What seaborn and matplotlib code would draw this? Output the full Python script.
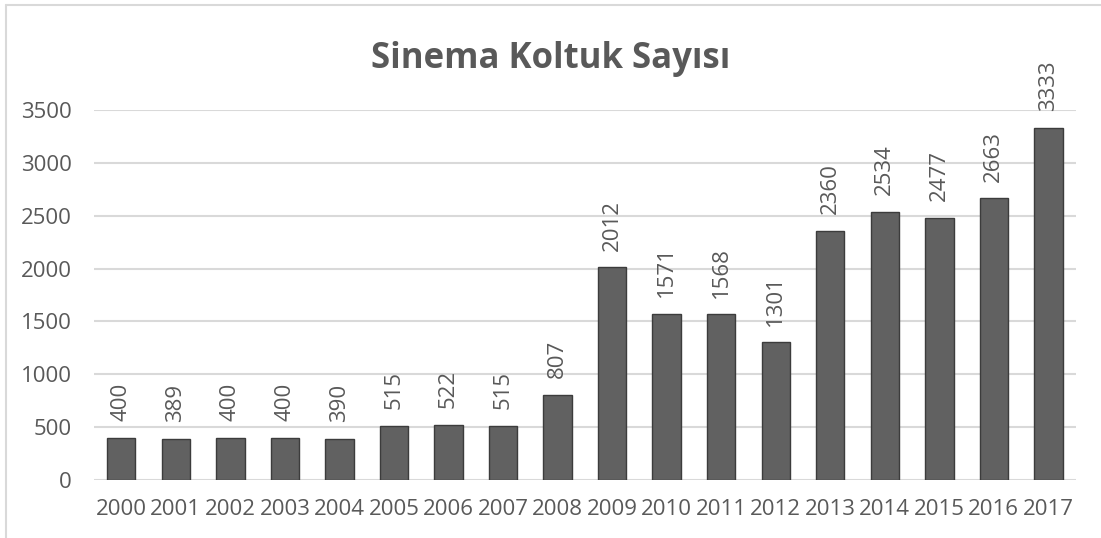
import matplotlib.pyplot as plt
import pandas as pd
import seaborn as sns
from matplotlib.lines import Line2D

# Data
years = [str(y) for y in range(2000, 2018)]
seats = [400, 389, 400, 400, 390, 515, 522, 515, 807, 2012,
         1571, 1568, 1301, 2360, 2534, 2477, 2663, 3333]

df = pd.DataFrame({'year': years, 'seats': seats})

sns.set_style('white')
plt.rcParams['font.family'] = ['Open Sans', 'DejaVu Sans']
text_color = '#595959'

fig = plt.figure(figsize=(11.01, 5.38), dpi=100)
ax = fig.add_axes([0.0854, 0.1078, 0.8916, 0.6877])

sns.barplot(data=df, x='year', y='seats', color='#616161', width=0.52,
            saturation=1, edgecolor='#3c3c3c', linewidth=1.0, ax=ax, zorder=3)

ax.set_ylim(0, 3500)
ax.set_yticks(range(0, 3501, 500))
ax.set_xlim(-0.5, len(years) - 0.5)
ax.grid(axis='y', color='#d9d9d9', linewidth=1.5, zorder=0)
ax.set_axisbelow(True)
for s in ax.spines.values():
    s.set_visible(False)
ax.set_xlabel('')
ax.set_ylabel('')
ax.tick_params(axis='both', length=0, labelsize=16, labelcolor=text_color)
ax.tick_params(axis='y', pad=16)
ax.tick_params(axis='x', pad=14)

# value labels above bars
for i, v in enumerate(seats):
    ax.annotate(str(v), xy=(i, v), xytext=(0, 12), textcoords='offset points',
                rotation=90, ha='center', va='bottom', fontsize=16,
                color=text_color, annotation_clip=False)

fig.text(0.5, 0.89, 'Sinema Koltuk Sayısı', ha='center', va='center',
         fontsize=25, fontweight='bold', color=text_color)

# light frame around the chart area (left and top edges visible)
fig.add_artist(Line2D([0.005, 0.005], [0.0, 0.99], transform=fig.transFigure,
                      color='#d9d9d9', linewidth=1.5))
fig.add_artist(Line2D([0.005, 1.0], [0.99, 0.99], transform=fig.transFigure,
                      color='#d9d9d9', linewidth=1.5))

plt.savefig('out.png', dpi=100)
